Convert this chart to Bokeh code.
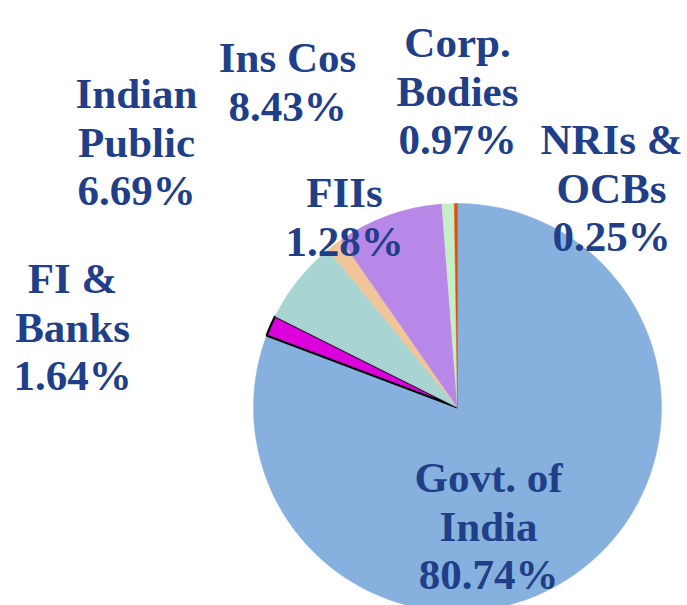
from bokeh.plotting import figure
from bokeh.models import Range1d, ColumnDataSource
from bokeh.core.properties import value
from bokeh.embed import file_html
from bokeh.resources import INLINE

# ---- data ----
categories = ["Govt. of India", "FI & Banks", "Indian Public", "FIIs",
              "Ins Cos", "Corp. Bodies", "NRIs & OCBs"]
shares = [80.74, 1.64, 6.69, 1.28, 8.43, 0.97, 0.25]
label_lines = [["Govt. of", "India"], ["FI &", "Banks"], ["Indian", "Public"],
               ["FIIs"], ["Ins Cos"], ["Corp.", "Bodies"], ["NRIs &", "OCBs"]]

# ---- styles / layout ----
slice_colors = ["#86B0DD", "#DC00DC", "#A8D4D2", "#F2C49A", "#B888E8", "#C6EEC6", "#E0520E"]
slice_line_colors = [None, "black", None, None, None, None, None]
label_cx = [488, 72, 136, 344, 287, 457, 611]
label_first_baseline = [477, 278, 93, 192, 57, 42, 139]
line_gap = 48.5
pie_cx, pie_cy, pie_r = 457, 407, 204
text_color = "#203F88"

W, H = 687, 605
p = figure(width=W, height=H, output_backend="svg", toolbar_location=None,
           x_range=Range1d(0, W), y_range=Range1d(-H, 0),
           x_axis_type=None, y_axis_type=None, min_border=0)
p.grid.visible = False
p.outline_line_color = None
p.background_fill_color = "white"
p.border_fill_color = "white"

# wedge angles: clockwise from 12 o'clock
total = sum(shares)
starts, ends = [], []
cum = 0.0
for s in shares:
    c0 = cum / total * 360.0
    cum += s
    c1 = cum / total * 360.0
    starts.append(90.0 - c0)
    ends.append(90.0 - c1)

for i in range(len(shares)):
    src = ColumnDataSource(dict(x=[pie_cx], y=[-pie_cy], s=[starts[i]], e=[ends[i]]))
    lc = slice_line_colors[i]
    p.wedge(x="x", y="y", radius=pie_r, start_angle="s", end_angle="e",
            start_angle_units="deg", end_angle_units="deg", direction="clock",
            fill_color=slice_colors[i], line_color=lc if lc else slice_colors[i],
            line_width=2.2 if lc else 0.5, source=src)

# labels
tx, ty, tt = [], [], []
for i, cat in enumerate(categories):
    lines = label_lines[i] + [f"{shares[i]:.2f}%"]
    for j, ln in enumerate(lines):
        tx.append(label_cx[i])
        ty.append(-(label_first_baseline[i] + j * line_gap))
        tt.append(ln)

p.text(x=tx, y=ty, text=tt, text_align="center", text_baseline="alphabetic",
       text_font=value("Liberation Serif"), text_font_style="bold",
       text_font_size="43px", text_color=text_color)

open("out.html", "w").write(file_html(p, INLINE))
